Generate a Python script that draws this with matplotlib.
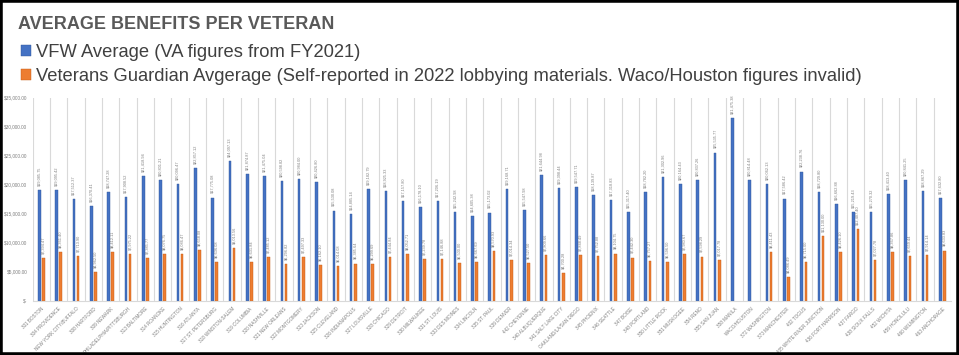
import numpy as np
import matplotlib
matplotlib.use("Agg")
import matplotlib.pyplot as plt
from matplotlib.patches import Rectangle
from matplotlib.ticker import FuncFormatter

# Regionalbueros (Kategorien)
offices = [
    "301 BOSTON", "304 PROVIDENCE", "NEW YORK CITY/BUFFALO", "308 HARTFORD", "309 NEWARK",
    "PHILADELPHIA/PITTSBURGH", "313 BALTIMORE", "314 ROANOKE", "315 HUNTINGTON", "316 ATLANTA",
    "317 ST. PETERSBURG", "318 WINSTON-SALEM", "319 COLUMBIA", "320 NASHVILLE", "321 NEW ORLEANS",
    "322 MONTGOMERY", "323 JACKSON", "325 CLEVELAND", "326 INDIANAPOLIS", "327 LOUISVILLE",
    "328 CHICAGO", "329 DETROIT", "330 MILWAUKEE", "331 ST. LOUIS", "333 DES MOINES",
    "334 LINCOLN", "335 ST. PAUL", "339 DENVER", "442 CHEYENNE", "340 ALBUQUERQUE",
    "341 SALT LAKE CITY", "OAKLAND/LA/SAN DIEGO", "345 PHOENIX", "346 SEATTLE", "347 BOISE",
    "348 PORTLAND", "350 LITTLE ROCK", "351 MUSKOGEE", "354 RENO", "355 SAN JUAN",
    "358 MANILA", "WACO/HOUSTON", "372 WASHINGTON", "373 MANCHESTER", "402 TOGUS",
    "405 WHITE RIVER JUNCTION", "436 FORT HARRISON", "437 FARGO", "438 SIOUX FALLS", "452 WICHITA",
    "459 HONOLULU", "460 WILMINGTON", "463 ANCHORAGE",
]

# VFW Durchschnitt (VA Zahlen FY2021)
vfw_avg = [
    19085.75, 19095.42, 17512.37, 16370.41, 18747.28, 17908.52, 21418.94, 20801.21, 20096.47, 22857.12,
    17775.08, 24097.13, 21874.87, 21475.04, 20598.82, 20984.00, 20426.80, 15530.08, 14885.14, 19182.79,
    18925.33, 17157.80, 16178.10, 17206.19, 15242.98, 14605.38, 15173.02, 19168.71, 15547.98, 21644.98,
    19398.44, 19547.71, 18139.87, 17318.83, 15317.40, 18782.20, 21302.96, 20164.43, 20837.26, 25535.77,
    31475.38, 20814.48, 20062.13, 17586.42, 22238.76, 18729.80, 16662.88, 15219.43, 15270.32, 18413.40,
    20841.25, 18867.29, 17632.80,
]

# Veterans Guardian Durchschnitt (Manila und Waco/Houston fehlen)
vg_avg = [
    7394.47, 8361.40, 7713.90, 4962.50, 8412.11, 7975.22, 7385.77, 8076.75, 8086.47, 8658.08,
    6636.08, 9013.56, 6631.84, 7485.12, 6296.82, 7497.33, 6162.10, 6014.08, 6385.64, 6299.69,
    7444.84, 8052.71, 7239.78, 7146.88, 6500.00, 6667.69, 8570.93, 7014.34, 6527.50, 7809.66,
    4700.28, 7848.49, 7752.88, 8104.75, 7442.30, 6757.27, 6596.50, 7980.67, 7598.29, 7017.78,
    None, None, 8411.43, 4086.49, 6715.00, 11130.00, 8426.10, 12407.40, 7027.78, 8367.86,
    7659.44, 7914.14, 8633.83,
]

blue = "#4472C4"
orange = "#ED7D31"
grey = "#7f7f7f"

plt.rcParams['font.family'] = ['Liberation Sans', 'DejaVu Sans']

fig = plt.figure(figsize=(9.59, 3.55), dpi=100)
ax = fig.add_axes([0.0341, 0.153, 0.9576, 0.572])

x = np.arange(len(offices))
vg_vals = np.array([np.nan if v is None else v for v in vg_avg])

b1 = ax.bar(x - 0.12, vfw_avg, width=0.15, color=blue, edgecolor="#2f5597", linewidth=0.3,
            label="VFW Average (VA figures from FY2021)")
b2 = ax.bar(x + 0.12, vg_vals, width=0.15, color=orange, edgecolor="#c55a11", linewidth=0.3,
            label="Veterans Guardian Avgerage (Self-reported in 2022 lobbying materials. Waco/Houston figures invalid)")

# Datenbeschriftungen
ax.bar_label(b1, labels=[f"${v:,.2f}" for v in vfw_avg], rotation=90, fontsize=2.8,
             color=grey, padding=3)
ax.bar_label(b2, labels=["" if v is None else f"${v:,.2f}" for v in vg_avg], rotation=90,
             fontsize=2.8, color=grey, padding=3)

ax.set_xlim(-0.5, len(offices) - 0.5)
ax.set_ylim(0, 35000)
ax.set_yticks(np.arange(0, 35001, 5000))
ax.yaxis.set_major_formatter(FuncFormatter(lambda v, p: "$-" if v == 0 else f"${v:,.2f}"))

ax.set_xticks(x)
ax.set_xticklabels(offices, rotation=45, ha='right', rotation_mode='anchor', fontsize=3.3, color=grey)
ax.set_xticks(np.arange(-0.5, len(offices), 1), minor=True)
ax.grid(True, which='minor', axis='x', color='#d9d9d9', linewidth=0.8)
ax.tick_params(axis='both', which='both', length=0)
ax.tick_params(axis='y', labelsize=3.4, labelcolor=grey, pad=4)
ax.tick_params(axis='x', pad=4)

for s in ['top', 'right', 'left']:
    ax.spines[s].set_visible(False)
ax.spines['bottom'].set_color('#d9d9d9')

fig.text(0.019, 0.918, "AVERAGE BENEFITS PER VETERAN", fontsize=13, fontweight='bold',
         color='#595959', va='baseline')
fig.legend(handles=[b1, b2], loc='upper left', bbox_to_anchor=(0.014, 0.897), frameon=False,
           fontsize=13.2, handlelength=0.55, handleheight=0.55, handletextpad=0.3,
           labelspacing=0.38, labelcolor='#404040', borderaxespad=0)

# Rahmen
fig.add_artist(Rectangle((0, 0), 1, 1, transform=fig.transFigure, fill=False,
                         edgecolor='black', linewidth=4))

fig.savefig("out.png", dpi=100)
